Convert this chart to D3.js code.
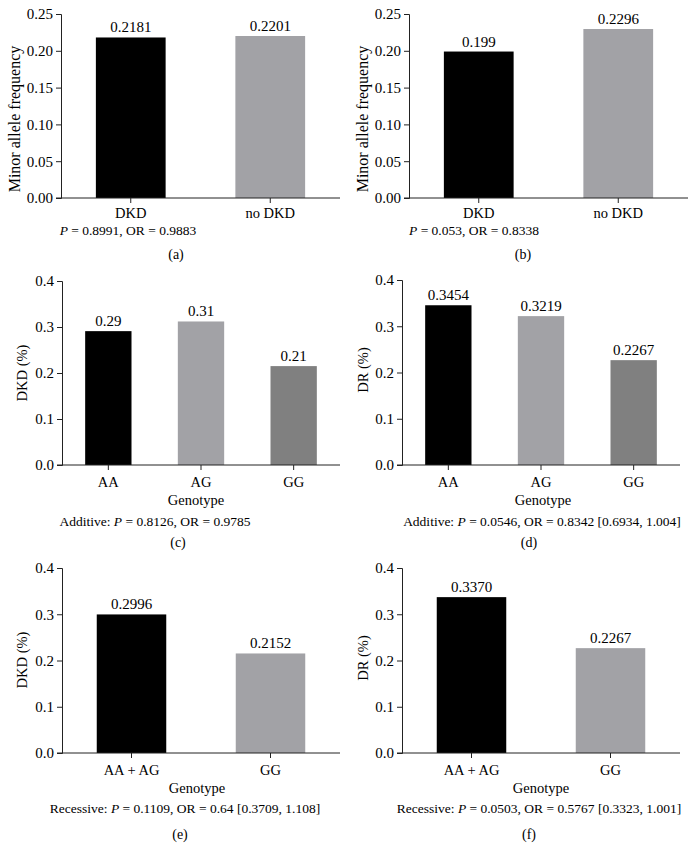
<!DOCTYPE html>
<html><head><meta charset="utf-8">
<script src="https://cdn.jsdelivr.net/npm/d3@7"></script>
<style>body{margin:0;background:#fff}svg{display:block}text{font-family:"Liberation Serif","Times New Roman",serif;fill:#000}</style>
</head><body><svg id="c" width="696" height="859"></svg>
<script>
// ---- data ----
const catsA = ["DKD", "no DKD"];
const valsA = [0.2181, 0.2201];
const labelsA = ["0.2181", "0.2201"];
const catsB = ["DKD", "no DKD"];
const valsB = [0.199, 0.2296];
const labelsB = ["0.199", "0.2296"];
const catsC = ["AA", "AG", "GG"];
const valsC = [0.291, 0.312, 0.215];
const labelsC = ["0.29", "0.31", "0.21"];
const catsD = ["AA", "AG", "GG"];
const valsD = [0.3454, 0.3219, 0.2267];
const labelsD = ["0.3454", "0.3219", "0.2267"];
const catsE = ["AA + AG", "GG"];
const valsE = [0.2996, 0.2152];
const labelsE = ["0.2996", "0.2152"];
const catsF = ["AA + AG", "GG"];
const valsF = [0.3370, 0.2267];
const labelsF = ["0.3370", "0.2267"];
const ticksFreq = [0, 0.05, 0.10, 0.15, 0.20, 0.25];
const ticksPct = [0, 0.1, 0.2, 0.3, 0.4];
const notes = [
  ["", "P", " = 0.8991, OR = 0.9883"],
  ["", "P", " = 0.053, OR = 0.8338"],
  ["Additive: ", "P", " = 0.8126, OR = 0.9785"],
  ["Additive: ", "P", " = 0.0546, OR = 0.8342 [0.6934, 1.004]"],
  ["Recessive: ", "P", " = 0.1109, OR = 0.64 [0.3709, 1.108]"],
  ["Recessive: ", "P", " = 0.0503, OR = 0.5767 [0.3323, 1.001]"]
];
const captions = ["(a)", "(b)", "(c)", "(d)", "(e)", "(f)"];
const yTitles = ["Minor allele frequency", "Minor allele frequency", "DKD (%)", "DR (%)", "DKD (%)", "DR (%)"];

const BLACK = "#000000", LIGHT = "#a2a2a6", DARK = "#808080";
const FONT = '"Liberation Serif", "Times New Roman", serif';
const svg = d3.select("#c");

const panels = [
  {cats: catsA, vals: valsA, labels: labelsA, ticks: ticksFreq, fmt: ".2f", max: 0.25, colors: [BLACK, LIGHT],
   x0: 61, x1: 340, yT: 14, yB: 198, ytx: 15, yty: 119, ytfs: 16, lab: 218, gen: null, note: [128, 235], cap: [176, 259]},
  {cats: catsB, vals: valsB, labels: labelsB, ticks: ticksFreq, fmt: ".2f", max: 0.25, colors: [BLACK, LIGHT],
   x0: 409, x1: 688, yT: 14, yB: 198, ytx: 363, yty: 119, ytfs: 16, lab: 218, gen: null, note: [474, 235], cap: [523, 259]},
  {cats: catsC, vals: valsC, labels: labelsC, ticks: ticksPct, fmt: ".1f", max: 0.4, colors: [BLACK, LIGHT, DARK],
   x0: 62, x1: 340, yT: 281, yB: 465, ytx: 22, yty: 373, ytfs: 14.5, lab: 487, gen: [196, 505], note: [155, 526], cap: [178, 547]},
  {cats: catsD, vals: valsD, labels: labelsD, ticks: ticksPct, fmt: ".1f", max: 0.4, colors: [BLACK, LIGHT, DARK],
   x0: 402, x1: 680, yT: 280, yB: 465, ytx: 363, yty: 370, ytfs: 14.5, lab: 487, gen: [543, 505], note: [542, 526], cap: [529, 547]},
  {cats: catsE, vals: valsE, labels: labelsE, ticks: ticksPct, fmt: ".1f", max: 0.4, colors: [BLACK, LIGHT],
   x0: 62, x1: 340, yT: 568, yB: 753, ytx: 22, yty: 660, ytfs: 14.5, lab: 775, gen: [197, 793], note: [185, 813], cap: [180, 839]},
  {cats: catsF, vals: valsF, labels: labelsF, ticks: ticksPct, fmt: ".1f", max: 0.4, colors: [BLACK, LIGHT],
   x0: 402, x1: 680, yT: 568, yB: 753, ytx: 363, yty: 658, ytfs: 14.5, lab: 775, gen: [541, 793], note: [539, 813], cap: [529, 839]}
];

panels.forEach((p, i) => {
  const g = svg.append("g");
  const x = d3.scaleBand().domain(p.cats).range([p.x0, p.x1]).paddingInner(0.5).paddingOuter(0.25);
  const y = d3.scaleLinear().domain([0, p.max]).range([p.yB, p.yT]);

  g.selectAll("rect.bar").data(p.vals).join("rect")
    .attr("class", "bar")
    .attr("x", (d, j) => x(p.cats[j]))
    .attr("y", d => y(d))
    .attr("width", x.bandwidth())
    .attr("height", d => y(0) - y(d))
    .attr("fill", (d, j) => p.colors[j]);

  g.selectAll("text.val").data(p.vals).join("text")
    .attr("class", "val")
    .attr("x", (d, j) => x(p.cats[j]) + x.bandwidth() / 2)
    .attr("y", d => y(d) - 5)
    .attr("text-anchor", "middle")
    .attr("font-size", 15)
    .text((d, j) => p.labels[j]);

  const ya = g.append("g").attr("transform", `translate(${p.x0},0)`)
    .call(d3.axisLeft(y).tickValues(p.ticks).tickFormat(d3.format(p.fmt)).tickSize(5).tickPadding(3));
  ya.attr("font-family", FONT);
  ya.selectAll("text").attr("font-size", 15).attr("fill", "#000");
  ya.select(".domain").attr("stroke", "#222");
  ya.selectAll(".tick line").attr("stroke", "#222");

  const xa = g.append("g").attr("transform", `translate(0,${p.yB})`)
    .call(d3.axisBottom(x).tickSize(5).tickSizeOuter(0).tickFormat(() => ""));
  xa.select(".domain").attr("d", `M${p.x0 - 5},0H${p.x1}`).attr("stroke", "#222");
  xa.selectAll(".tick line").attr("stroke", "#222");

  g.selectAll("text.cat").data(p.cats).join("text")
    .attr("class", "cat")
    .attr("x", d => x(d) + x.bandwidth() / 2)
    .attr("y", p.lab)
    .attr("text-anchor", "middle")
    .attr("font-size", 14.5)
    .text(d => d);

  g.append("text")
    .attr("transform", `translate(${p.ytx + 5},${p.yty}) rotate(-90)`)
    .attr("text-anchor", "middle")
    .attr("font-size", p.ytfs)
    .text(yTitles[i]);

  if (p.gen) {
    g.append("text").attr("x", p.gen[0]).attr("y", p.gen[1]).attr("text-anchor", "middle")
      .attr("font-size", 14.5).text("Genotype");
  }

  const n = g.append("text").attr("x", p.note[0]).attr("y", p.note[1]).attr("text-anchor", "middle").attr("font-size", 13.5);
  n.append("tspan").text(notes[i][0]);
  n.append("tspan").attr("font-style", "italic").text(notes[i][1]);
  n.append("tspan").text(notes[i][2]);

  g.append("text").attr("x", p.cap[0]).attr("y", p.cap[1]).attr("text-anchor", "middle")
    .attr("font-size", 14).text(captions[i]);
});
</script></body></html>
